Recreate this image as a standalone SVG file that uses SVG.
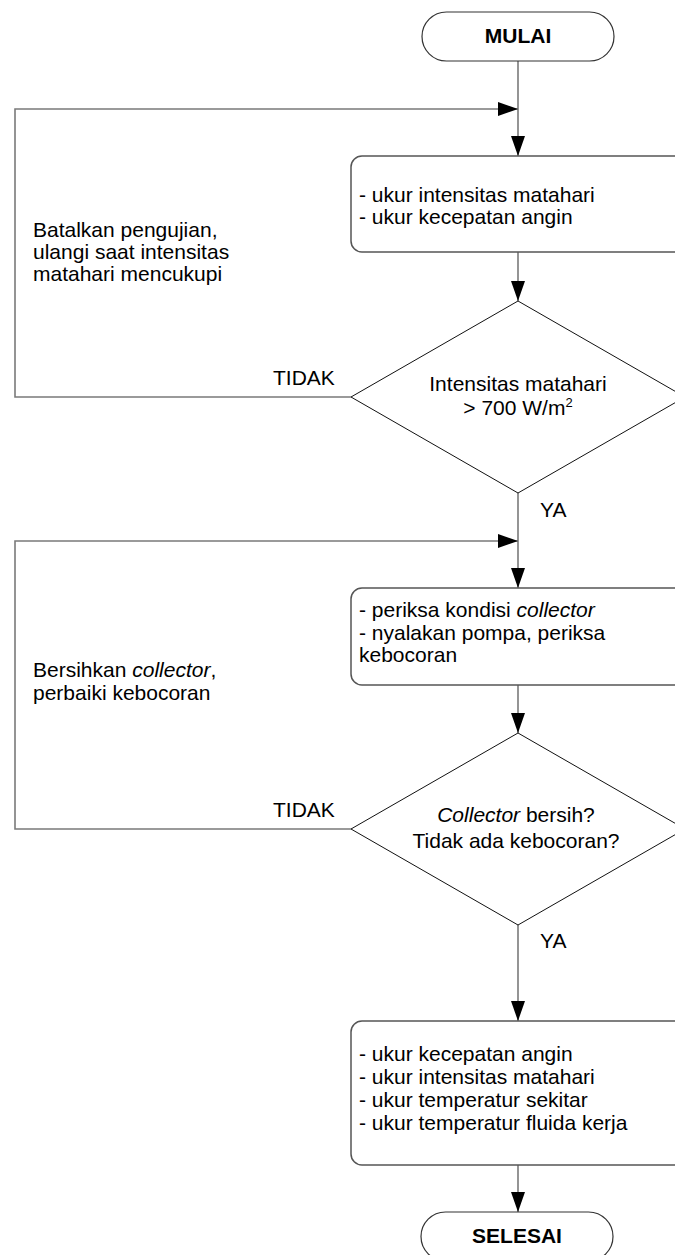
<svg xmlns="http://www.w3.org/2000/svg" width="675" height="1255" viewBox="0 0 675 1255">
<style>
text{font-family:"Liberation Sans",Arial,sans-serif;font-size:21px;fill:#000}
.b{font-weight:bold}
.c{text-anchor:middle}
.i{font-style:italic}
.term{fill:#fff;stroke:#333;stroke-width:1.2}
.box{fill:#fff;stroke:#555;stroke-width:1.5}
.dia{fill:#fff;stroke:#111;stroke-width:1}
.con{fill:none;stroke:#7a7a7a;stroke-width:1.6}
</style>
<defs>
<marker id="ah" markerUnits="userSpaceOnUse" markerWidth="20" markerHeight="16" refX="20" refY="8" orient="auto">
<path d="M0,1 L20,8 L0,15 Z" fill="#000"/>
</marker>
</defs>
<g id="connectors">
<path class="con" d="M518,61 V156" marker-end="url(#ah)"/>
<path class="con" d="M351,397 H15 V109 H518" marker-end="url(#ah)"/>
<path class="con" d="M518,252 V301" marker-end="url(#ah)"/>
<path class="con" d="M518,493 V588" marker-end="url(#ah)"/>
<path class="con" d="M351,829 H15 V541 H518" marker-end="url(#ah)"/>
<path class="con" d="M518,685 V733" marker-end="url(#ah)"/>
<path class="con" d="M518,925 V1021" marker-end="url(#ah)"/>
<path class="con" d="M518,1165 V1212" marker-end="url(#ah)"/>
</g>
<g id="mulai">
<rect class="term" x="422" y="12" width="192" height="49" rx="24.5"/>
<text class="b c" x="518" y="43">MULAI</text>
</g>
<g id="box1">
<rect class="box" x="351" y="156" width="334" height="96" rx="11"/>
<text x="359" y="202">- ukur intensitas matahari</text>
<text x="359" y="224">- ukur kecepatan angin</text>
</g>
<g id="dec1">
<polygon class="dia" points="518,301 685,397 518,493 351,397"/>
<text class="c" x="518" y="391">Intensitas matahari</text>
<text class="c" x="518" y="415">&gt; 700 W/m<tspan font-size="13" dy="-8">2</tspan></text>
</g>
<g id="label-tidak1"><text x="273" y="385">TIDAK</text></g>
<g id="label-ya1"><text x="540" y="517">YA</text></g>
<g id="note1">
<text x="33" y="237">Batalkan pengujian,</text>
<text x="33" y="259">ulangi saat intensitas</text>
<text x="33" y="281">matahari mencukupi</text>
</g>
<g id="box2">
<rect class="box" x="351" y="588" width="334" height="97" rx="11"/>
<text x="359" y="617">- periksa kondisi <tspan class="i">collector</tspan></text>
<text x="359" y="640">- nyalakan pompa, periksa</text>
<text x="359" y="662">kebocoran</text>
</g>
<g id="dec2">
<polygon class="dia" points="518,733 685,829 518,925 351,829"/>
<text class="c" x="516" y="822"><tspan class="i">Collector</tspan> bersih?</text>
<text class="c" x="516" y="848">Tidak ada kebocoran?</text>
</g>
<g id="label-tidak2"><text x="273" y="817">TIDAK</text></g>
<g id="label-ya2"><text x="540" y="948">YA</text></g>
<g id="note2">
<text x="33" y="677">Bersihkan <tspan class="i">collector</tspan>,</text>
<text x="33" y="700">perbaiki kebocoran</text>
</g>
<g id="box3">
<rect class="box" x="351" y="1021" width="334" height="144" rx="11"/>
<text x="359" y="1061">- ukur kecepatan angin</text>
<text x="359" y="1084">- ukur intensitas matahari</text>
<text x="359" y="1107">- ukur temperatur sekitar</text>
<text x="359" y="1130">- ukur temperatur fluida kerja</text>
</g>
<g id="selesai">
<rect class="term" x="421" y="1212" width="192" height="49" rx="24.5"/>
<text class="b c" x="517" y="1243">SELESAI</text>
</g>
</svg>
